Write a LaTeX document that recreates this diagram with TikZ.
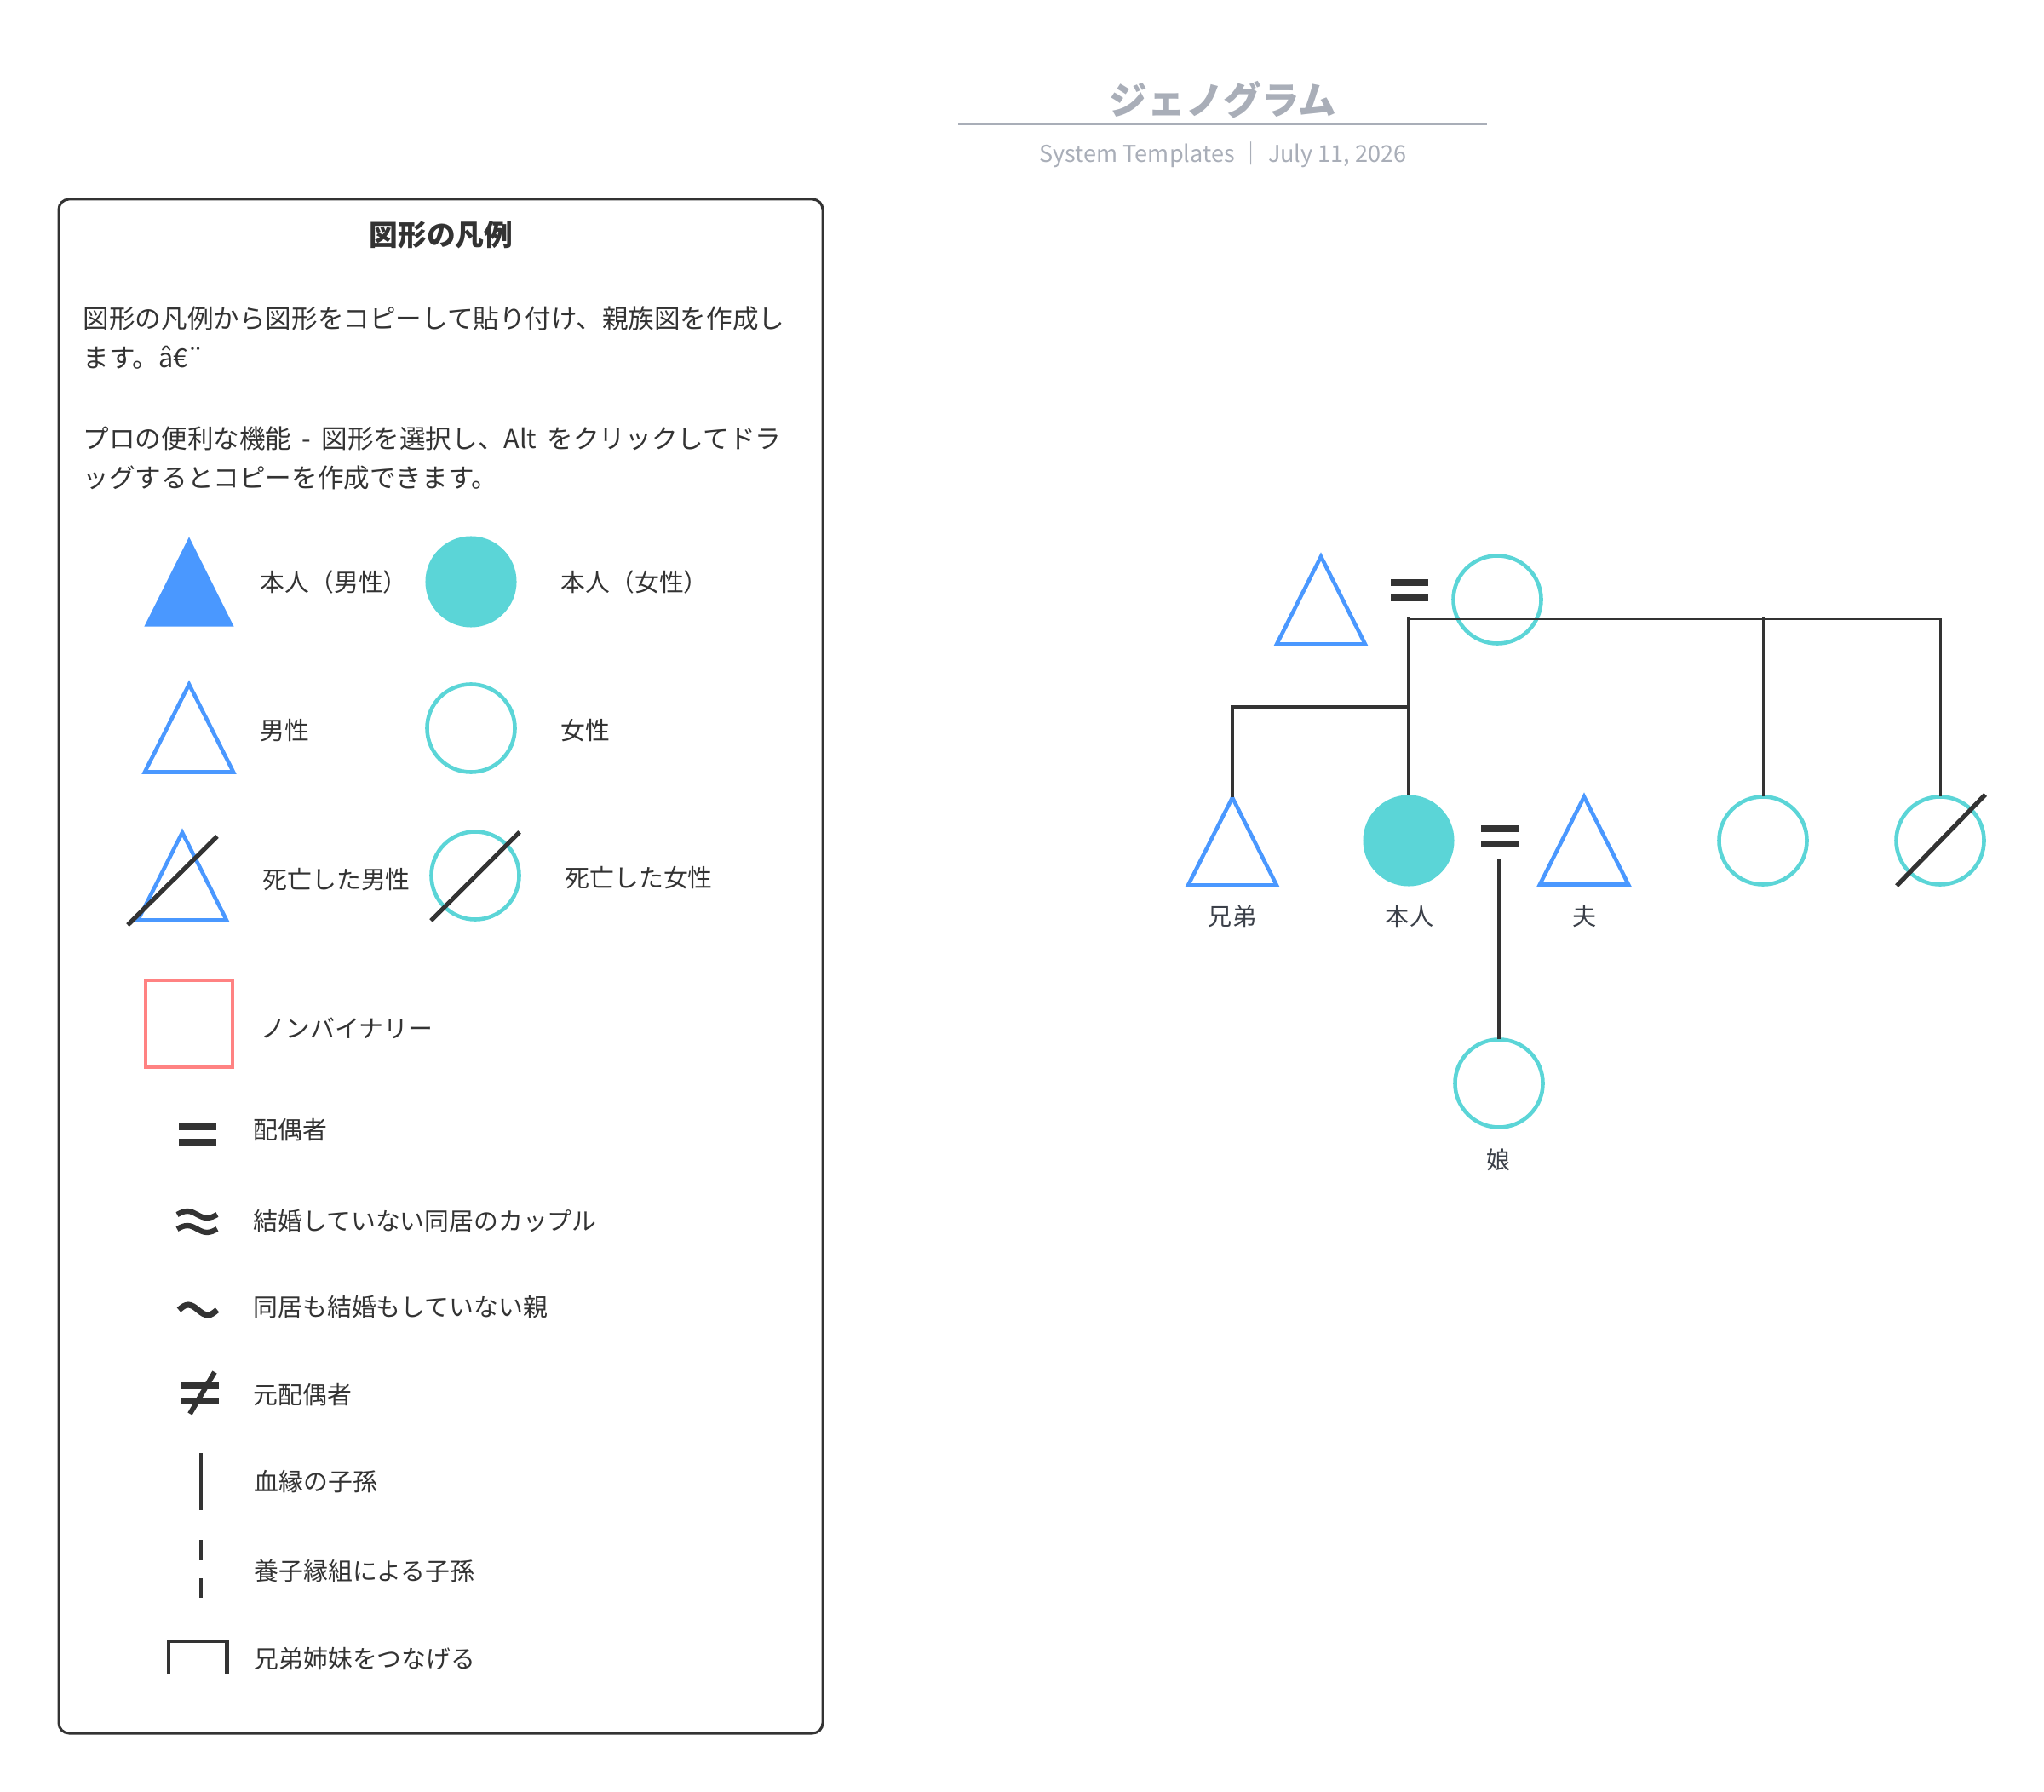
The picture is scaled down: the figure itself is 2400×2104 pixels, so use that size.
\documentclass[tikz,border=0pt]{standalone}
\usepackage{fontspec}
\setmainfont{Noto Sans CJK JP}
\usepackage{tikz}
\usetikzlibrary{calc}

\definecolor{ink}{HTML}{333333}
\definecolor{malecol}{HTML}{4A98FF}
\definecolor{femcol}{HTML}{5BD5D7}
\definecolor{nbcol}{HTML}{FF8282}
\definecolor{titlegray}{HTML}{A9AEB8}
\definecolor{labelcol}{HTML}{3B4049}

\tikzset{
	person/.style={inner sep=0pt, outer sep=0pt, minimum width=1.04cm, minimum height=1.03cm},
	maleline/.style={draw=malecol, line width=1.3pt},
	female/.style={circle, draw=femcol, line width=1.3pt, inner sep=0pt, outer sep=0pt, minimum size=1.03cm},
	selffemale/.style={circle, fill=femcol, inner sep=0pt, outer sep=0pt, minimum size=1.07cm},
	kinline/.style={ink, line width=0.85pt},
	kinthick/.style={ink, line width=1.25pt},
	slash/.style={ink, line width=1.5pt},
	symline/.style={ink, line width=1.3pt},
	wave/.style={ink, line width=1.8pt},
	item/.style={anchor=west, inner sep=0pt, yshift=0.85pt, text=ink, text height=0.88em, text depth=0.12em, font=\fontsize{8.2}{10}\selectfont},
	para/.style={item, font=\fontsize{8.7}{10}\selectfont},
	kinlabel/.style={inner sep=0pt, yshift=0.85pt, text=labelcol, text height=0.88em, text depth=0.12em, font=\fontsize{8}{10}\selectfont},
	spousebars/.pic={\fill[ink] (-22,-13) rectangle (22,-5); \fill[ink] (-22,5) rectangle (22,13);}
}

\begin{document}
\begin{tikzpicture}[x=0.01cm, y=-0.01cm]
	\useasboundingbox (0,0) rectangle (2400,2104);

	% title
	\node[inner sep=0pt, text=titlegray, font=\fontsize{12.7}{15}\selectfont\bfseries] (title) at (1436,117) {ジェノグラム};
	\draw[titlegray, line width=0.85pt] (1125,146) -- (1746,146);
	\node[inner sep=0pt, text=titlegray, text height=0.88em, text depth=0.12em, font=\fontsize{7.7}{10}\selectfont] (subtitle) at (1436,177) {System Templates ｜ July 11, 2026};

	% legend
	\draw[ink, line width=0.85pt, rounded corners=0.12cm] (69,234) rectangle (966,2035);
	\node[inner sep=0pt, text=ink, font=\fontsize{9.6}{12}\selectfont\bfseries] (legtitle) at (518,276) {図形の凡例};
	\node[para] (para1a) at (97,375) {図形の凡例から図形をコピーして貼り付け、親族図を作成し};
	\node[para] (para1b) at (97,421) {ます。â€¨};
	\node[para] (para2a) at (97,516) {プロの便利な機能\hspace{0.4em}-\hspace{0.4em}図形を選択し、Alt\hspace{0.4em}をクリックしてドラ};
	\node[para] (para2b) at (97,562) {ッグするとコピーを作成できます。};

	\node[person, minimum width=1.05cm, minimum height=1.05cm] (lselfm) at (222,683) {};
	\fill[malecol] (lselfm.south west) -- (lselfm.north) -- (lselfm.south east) -- cycle;
	\node[selffemale] (lselff) at (553,683) {};
	\node[item] (tselfm) at (305,684) {本人（男性）};
	\node[item] (tselff) at (658,684) {本人（女性）};

	\node[person] (lmale) at (222,855) {};
	\draw[maleline] (lmale.south west) -- (lmale.north) -- (lmale.south east) -- cycle;
	\node[female] (lfemale) at (553,855) {};
	\node[item] (tmale) at (305,858) {男性};
	\node[item] (tfemale) at (658,858) {女性};

	\node[person] (ldmale) at (214,1029) {};
	\draw[maleline] (ldmale.south west) -- (ldmale.north) -- (ldmale.south east) -- cycle;
	\draw[slash] ($(ldmale.center)+(-64,57)$) -- ($(ldmale.center)+(41,-47)$);
	\node[female] (ldfemale) at (558,1028) {};
	\draw[slash] ($(ldfemale.center)+(-52,53)$) -- ($(ldfemale.center)+(52,-51)$);
	\node[item] (tdmale) at (308,1033) {死亡した男性};
	\node[item] (tdfemale) at (663,1031) {死亡した女性};

	\node[draw=nbcol, line width=1.4pt, inner sep=0pt, minimum size=1.02cm] (lnonbin) at (222,1202) {};
	\node[item] (tnonbin) at (306,1208) {ノンバイナリー};

	\pic at (232,1332) {spousebars};
	\node[item] (tspouse) at (297,1327) {配偶者};

	\draw[wave] (208,1426) sin (220,1422) cos (231.5,1426) sin (243,1430) cos (255,1426);
	\draw[wave] (208,1443) sin (220,1439) cos (231.5,1443) sin (243,1447) cos (255,1443);
	\node[item] (tcohab) at (297,1434) {結婚していない同居のカップル};

	\draw[wave, line width=2pt] (210,1538) sin (221,1532) cos (232.5,1538) sin (244,1544) cos (255,1538);
	\node[item] (tunwed) at (297,1535) {同居も結婚もしていない親};

	\pic at (235,1636) {spousebars};
	\draw[ink, line width=1.7pt] (223,1660) -- (252,1611);
	\node[item] (texspouse) at (297,1638) {元配偶者};

	\draw[symline] (236,1706) -- (236,1773);
	\node[item] (tblood) at (298,1740) {血縁の子孫};
	\draw[symline, dash pattern=on 6.8pt off 6pt] (236,1808) -- (236,1876);
	\node[item] (tadopt) at (298,1845) {養子縁組による子孫};
	\draw[symline] (198,1966) -- (198,1927) -- (266.5,1927) -- (266.5,1966);
	\node[item] (tsibs) at (298,1948) {兄弟姉妹をつなげる};

	% genogram
	\node[person] (father) at (1551,705) {};
	\draw[maleline] (father.south west) -- (father.north) -- (father.south east) -- cycle;
	\pic at (1655,693) {spousebars};
	\node[female] (mother) at (1758,704) {};

	\node[person] (brother) at (1447,988) {};
	\draw[maleline] (brother.south west) -- (brother.north) -- (brother.south east) -- cycle;
	\node[selffemale] (self) at (1654,987) {};
	\pic at (1761,982) {spousebars};
	\node[person] (husband) at (1860,987) {};
	\draw[maleline] (husband.south west) -- (husband.north) -- (husband.south east) -- cycle;
	\node[female] (sister) at (2070,987) {};
	\node[female] (dsister) at (2278,987) {};
	\draw[slash] ($(dsister.center)+(-51,53)$) -- ($(dsister.center)+(53,-54)$);
	\node[female] (daughter) at (1760,1272) {};

	\node[kinlabel] (tbrother) at (1447,1076) {兄弟};
	\node[kinlabel] (tself) at (1655,1076) {本人};
	\node[kinlabel] (thusband) at (1861,1076) {夫};
	\node[kinlabel] (tdaughter) at (1760,1362) {娘};

	\coordinate (sib) at (1654,724);
	\coordinate (brojoin) at (1654,830);
	\coordinate (marriage) at (1760,1008);
	\draw[kinthick] (self.north) -- (sib);
	\draw[kinline] (1654,727) -| (dsister.north);
	\draw[kinline] (sister.north) -- (sister.north |- sib);
	\draw[kinthick] (brother.north) |- (brojoin);
	\draw[ink, line width=1.1pt] (marriage) -- (daughter.north);
\end{tikzpicture}
\end{document}
